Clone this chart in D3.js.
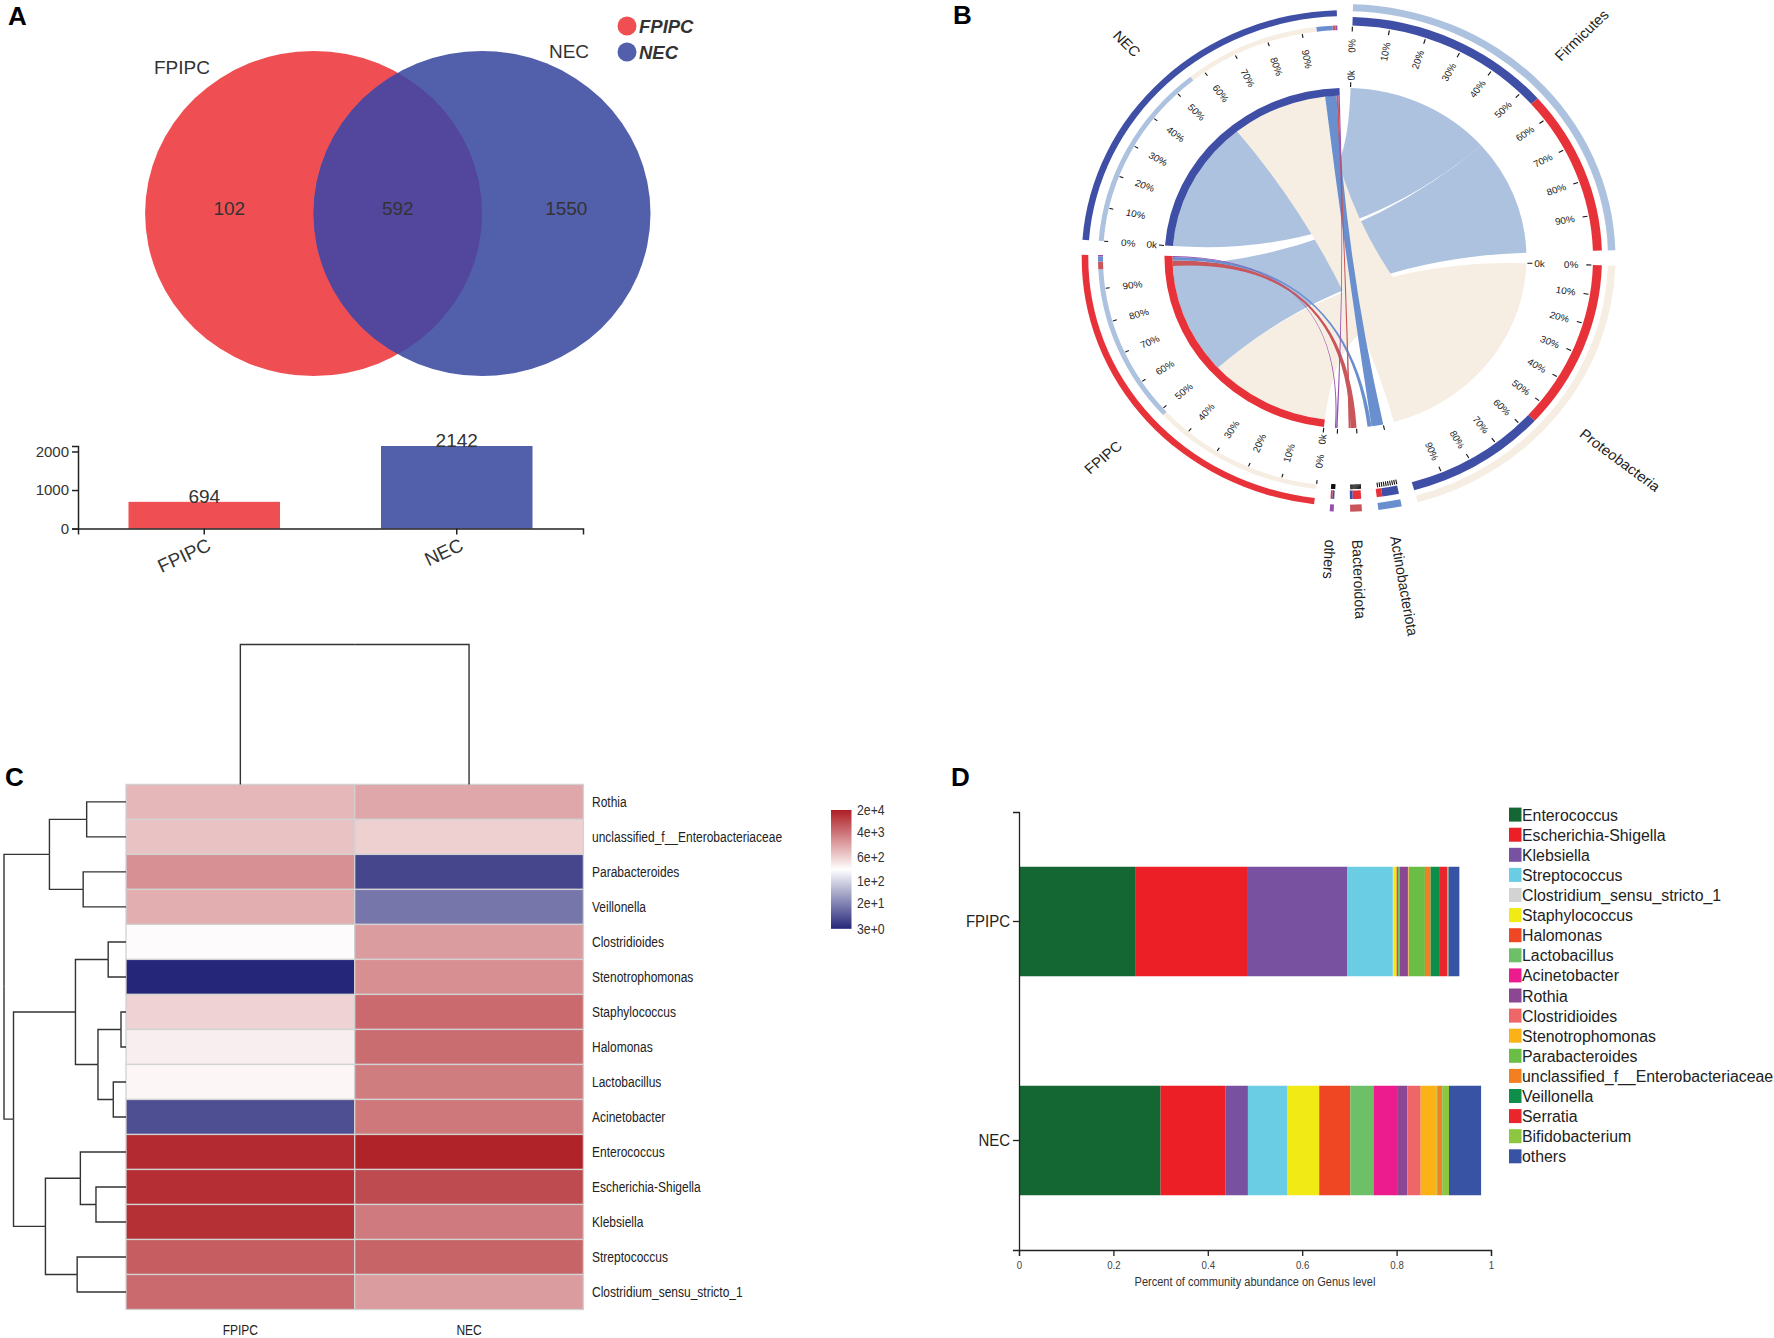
<!DOCTYPE html>
<html lang="en">
<head>
<meta charset="utf-8">
<title>FPIPC vs NEC genera</title>
<script src="https://d3js.org/d3.v7.min.js"></script>
<style>
  body { margin: 0; background: #fff; }
  svg { display: block; font-family: "Liberation Sans", Arial, Helvetica, sans-serif; }
  .letter { font-size: 26px; font-weight: bold; fill: #000; }
</style>
</head>
<body>
<svg id="fig" width="1774" height="1338"></svg>
<script>
// ---------------- data ----------------
// A: genera found in each group
const groups = ["FPIPC", "NEC"];
const groupColors = ["#ef4f52", "#525fab"];
const vennCounts = [102, 592, 1550];      // FPIPC only, shared, NEC only
const groupTotals = [694, 2142];
const totalTicks = [0, 1000, 2000];

// B: phylum share of each sample (%)
const phyla = ["Firmicutes", "Proteobacteria", "Actinobacteriota", "Bacteroidota", "others"];
const phylumColors = ["#adc2df", "#f7eee3", "#6a8fcf", "#c9565b", "#9350b0"];
const necPhyla   = [56.0, 38.2, 4.5, 0.75, 0.55];
const fpipcPhyla = [47.3, 48.5, 1.5, 2.25, 0.45];
const pctTicks = [0, 10, 20, 30, 40, 50, 60, 70, 80, 90];

// C: heatmap of top genera (read counts)
const genera = ["Rothia", "unclassified_f__Enterobacteriaceae", "Parabacteroides", "Veillonella",
  "Clostridioides", "Stenotrophomonas", "Staphylococcus", "Halomonas", "Lactobacillus", "Acinetobacter",
  "Enterococcus", "Escherichia-Shigella", "Klebsiella", "Streptococcus", "Clostridium_sensu_stricto_1"];
const heatFPIPC = [1000, 805, 2120, 1195, 267, 3, 591, 341, 292, 6.9, 15400, 14700, 14100, 5830, 4480];
const heatNEC   = [1364, 617, 5.8, 15.3, 1700, 2210, 4480, 4280, 3140, 3430, 18300, 8280, 3290, 5100, 1700];
// hclust style merges: negative = leaf (1-based), positive = earlier merge
const rowMerge = [[-7, -8], [-9, -10], [-5, -6], [1, 2], [-12, -13], [-1, -2], [-3, -4],
  [-11, 5], [-14, -15], [3, 4], [6, 7], [8, 9], [10, 12], [11, 13]];
const rowHeight = [5, 12.7, 17.8, 28, 30, 39.3, 42.8, 45.6, 48.8, 50.5, 76.5, 80.5, 112.4, 121.9];
const colMerge = [[-1, -2]];
const colHeight = [1];
const legendTicks = [3, 20, 100, 600, 4000, 20000];

// D: community composition, genus level
const genusNames = ["Enterococcus", "Escherichia-Shigella", "Klebsiella", "Streptococcus",
  "Clostridium_sensu_stricto_1", "Staphylococcus", "Halomonas", "Lactobacillus", "Acinetobacter",
  "Rothia", "Clostridioides", "Stenotrophomonas", "Parabacteroides", "unclassified_f__Enterobacteriaceae",
  "Veillonella", "Serratia", "Bifidobacterium", "others"];
const genusColors = ["#146633", "#ec1f26", "#7851a0", "#6acde3", "#d3d3d3", "#f2ea14", "#ef4723",
  "#6dbf68", "#ec1c8f", "#8c4792", "#ef6669", "#fbb216", "#6abd45", "#f37f20", "#0d8f4a",
  "#e9262b", "#8dc63f", "#3953a4"];
const genusFPIPC = [0.246, 0.239, 0.210, 0.097, 0.001, 0.007, 0.003, 0.003, 0.001, 0.017,
  0.001, 0.001, 0.034, 0.012, 0.018, 0.017, 0.003, 0.023];
const genusNEC = [0.300, 0.137, 0.048, 0.084, 0.000, 0.067, 0.066, 0.049, 0.050, 0.022,
  0.028, 0.034, 0.001, 0.010, 0.001, 0.000, 0.014, 0.068];
const shareTicks = [0, 0.2, 0.4, 0.6, 0.8, 1];

// ---------------- drawing ----------------
const svg = d3.select("#fig");
svg.append("rect").attr("width", 1774).attr("height", 1338).attr("fill", "#fff");
const defs = svg.append("defs");

// condensed text: scale horizontally around the anchor point
function narrow(sel, x, y, k) {
  return sel.attr("transform", `translate(${x},${y}) scale(${k},1)`);
}

[["A", 8, 25], ["B", 953, 24], ["C", 5, 786], ["D", 951, 786]].forEach(([t, x, y]) =>
  svg.append("text").attr("class", "letter").attr("x", x).attr("y", y).text(t));

// ===== A: Venn =====
const gA = svg.append("g");
const vennCy = 213.5, vennRx = 168.5, vennRy = 162.5;
const vennCx = [313.6, 482.0];
defs.append("clipPath").attr("id", "clipFPIPC").append("ellipse")
  .attr("cx", vennCx[0]).attr("cy", vennCy).attr("rx", vennRx).attr("ry", vennRy);
groups.forEach((g, i) => {
  gA.append("ellipse").attr("cx", vennCx[i]).attr("cy", vennCy)
    .attr("rx", vennRx).attr("ry", vennRy).attr("fill", groupColors[i]);
});
gA.append("ellipse").attr("cx", vennCx[1]).attr("cy", vennCy).attr("rx", vennRx).attr("ry", vennRy)
  .attr("clip-path", "url(#clipFPIPC)").attr("fill", "#52479d");

const vennTextX = [
  (vennCx[0] - vennRx + vennCx[1] - vennRx) / 2,
  (vennCx[0] + vennCx[1]) / 2,
  (vennCx[0] + vennRx + vennCx[1] + vennRx) / 2
];
gA.selectAll("text.vn").data(vennCounts).join("text").attr("class", "vn")
  .attr("x", (d, i) => vennTextX[i]).attr("y", vennCy + 1)
  .attr("text-anchor", "middle").attr("font-size", 19).attr("fill", "#333").text(d => d);

gA.append("text").attr("x", 182).attr("y", 74).attr("text-anchor", "middle")
  .attr("font-size", 19).attr("fill", "#333").text(groups[0]);
gA.append("text").attr("x", 569).attr("y", 58).attr("text-anchor", "middle")
  .attr("font-size", 19).attr("fill", "#333").text(groups[1]);

// legend
groups.forEach((g, i) => {
  const y = 26 + i * 26;
  gA.append("ellipse").attr("cx", 627).attr("cy", y).attr("rx", 9.5).attr("ry", 9.5).attr("fill", groupColors[i]);
  gA.append("text").attr("x", 639).attr("y", y + 6.5).attr("font-size", 18.5)
    .attr("font-weight", "bold").attr("font-style", "italic").attr("fill", "#333").text(g);
});

// ===== A: totals bar chart =====
const xA = d3.scaleBand().domain(groups).range([78, 583]).paddingInner(0.4).paddingOuter(0.2);
const yA = d3.scaleLinear().domain([0, d3.max(groupTotals)]).range([528.6, 446]);

gA.selectAll("rect.tot").data(groupTotals).join("rect").attr("class", "tot")
  .attr("x", (d, i) => xA(groups[i])).attr("width", xA.bandwidth())
  .attr("y", d => yA(d)).attr("height", d => yA(0) - yA(d))
  .attr("fill", (d, i) => groupColors[i]);
gA.selectAll("text.tot").data(groupTotals).join("text").attr("class", "tot")
  .attr("x", (d, i) => xA(groups[i]) + xA.bandwidth() / 2).attr("y", d => yA(d) + 1)
  .attr("text-anchor", "middle").attr("font-size", 19).attr("fill", "#333").text(d => d);

const axYA = gA.append("g").attr("transform", "translate(78,0)")
  .call(d3.axisLeft(yA).tickValues(totalTicks).tickSize(6).tickFormat(d3.format("d")));
axYA.selectAll("text").attr("font-size", 15).attr("fill", "#333")
  .attr("font-family", "Liberation Sans, Arial, sans-serif");
const axXA = gA.append("g").attr("transform", "translate(0,528.6)")
  .call(d3.axisBottom(xA).tickSize(6));
axXA.selectAll("text").attr("font-size", 19).attr("fill", "#333")
  .attr("font-family", "Liberation Sans, Arial, sans-serif")
  .attr("text-anchor", "end").attr("dy", null).attr("y", null)
  .attr("transform", "translate(8,21) rotate(-25)");
[axYA, axXA].forEach(a => a.selectAll("path, line").attr("stroke", "#222").attr("stroke-width", 1.5));

// ===== B: chord =====
const cxB = 1345.5, cyB = 258, squash = 0.94;
const gB = svg.append("g").attr("transform", `translate(${cxB},${cyB}) scale(1,${squash})`);
const sampleColors = { NEC: "#3f4fa5", FPIPC: "#e8323a" };

const links = [];
phyla.forEach((p, pi) => {
  links.push({ s: "NEC", pi, v: necPhyla[pi] });
  links.push({ s: "FPIPC", pi, v: fpipcPhyla[pi] });
});
const segs = phyla.map((p, pi) => ({ name: p, kind: "phylum", color: phylumColors[pi], links: links.filter(l => l.pi === pi) }))
  .concat(["FPIPC", "NEC"].map(s => ({ name: s, kind: "sample", color: sampleColors[s], links: links.filter(l => l.s === s) })));

const rad = {
  sample: { ribbon: 173, tick: [238, 242], comp: [242.5, 247.5], outer: [257.2, 263.8], pct: 225 },
  phylum: { ribbon: 181, tick: [241, 246], comp: [247.5, 256.5], outer: [262.5, 270], pct: 233 }
};
const padA = 3.5 * Math.PI / 180;
const startA = 1.6 * Math.PI / 180;
const perUnit = (2 * Math.PI - padA * segs.length) / (2 * d3.sum(links, l => l.v));
let cur = startA;
segs.forEach(sg => {
  sg.total = d3.sum(sg.links, l => l.v);
  sg.a0 = cur; sg.a1 = cur + sg.total * perUnit; cur = sg.a1 + padA;
  sg.pct = d3.scaleLinear().domain([0, 100]).range([sg.a0, sg.a1]);
  let b = sg.a0;
  sg.blocks = sg.links.slice().sort((x, y) => y.v - x.v).map(l => {
    const blk = { startAngle: b, endAngle: b + l.v * perUnit };
    b = blk.endAngle;
    if (sg.kind === "sample") { l.src = blk; blk.color = phylumColors[l.pi]; }
    else { l.tgt = blk; blk.color = sampleColors[l.s]; }
    return blk;
  });
});

const arc = d3.arc();
const ring = (a0, a1, r) => arc({ startAngle: a0, endAngle: a1, innerRadius: r[0], outerRadius: r[1] });
const ribbon = d3.ribbon();

// ribbons, big ones first
links.slice().sort((x, y) => y.v - x.v).forEach(l => {
  gB.append("path")
    .attr("d", ribbon({ source: { ...l.src, radius: rad.sample.ribbon }, target: { ...l.tgt, radius: rad.phylum.ribbon } }))
    .attr("fill", phylumColors[l.pi]);
});

function radialText(ang, r, txt, side, size) {
  const deg = ang * 180 / Math.PI;
  const right = deg < 185;
  const anchor = side === "in" ? (right ? "start" : "end") : (right ? "end" : "start");
  return gB.append("text")
    .attr("transform", `rotate(${right ? deg - 90 : deg + 90}) translate(${right ? r : -r},0)`)
    .attr("text-anchor", anchor).attr("dominant-baseline", "central")
    .attr("font-size", size).attr("fill", "#222").text(txt);
}
const tickLine = (ang, r) => gB.append("line")
  .attr("x1", r[0] * Math.sin(ang)).attr("y1", -r[0] * Math.cos(ang))
  .attr("x2", r[1] * Math.sin(ang)).attr("y2", -r[1] * Math.cos(ang))
  .attr("stroke", "#111").attr("stroke-width", 1.1);

segs.forEach(sg => {
  const R = rad[sg.kind];
  const big = sg.total > 20;
  if (sg.kind === "sample") gB.append("path").attr("d", ring(sg.a0, sg.a1, [173, 181])).attr("fill", sg.color);
  sg.blocks.forEach(b => gB.append("path").attr("d", ring(b.startAngle, b.endAngle, R.comp)).attr("fill", b.color));
  gB.append("path").attr("d", ring(sg.a0, sg.a1, R.outer)).attr("fill", sg.color);
  pctTicks.forEach(p => {
    tickLine(sg.pct(p), R.tick);
    if (big) radialText(sg.pct(p), R.pct, p + "%", "out", 10);
  });
  tickLine(sg.a0, [182, 187]);
  if (big) radialText(sg.a0, 189, "0k", "in", 10);
  radialText((sg.a0 + sg.a1) / 2, 300, sg.name, "in", 15);
});

// ===== C: heatmap =====
const gC = svg.append("g");
const hx = d3.scaleBand().domain(groups).range([126, 583.4]);
const hy = d3.scaleBand().domain(genera).range([784.4, 1309.5]);
const heatColor = d3.scaleLog().domain([3, Math.sqrt(3 * 20000), 20000])
  .range(["#252679", "#ffffff", "#ae1e24"]).interpolate(d3.interpolateRgb).clamp(true);
const cells = [];
genera.forEach((g, i) => {
  cells.push({ g, s: "FPIPC", v: heatFPIPC[i] });
  cells.push({ g, s: "NEC", v: heatNEC[i] });
});
gC.selectAll("rect.cell").data(cells).join("rect").attr("class", "cell")
  .attr("x", d => hx(d.s)).attr("y", d => hy(d.g))
  .attr("width", hx.bandwidth()).attr("height", hy.bandwidth())
  .attr("fill", d => heatColor(d.v)).attr("stroke", "#d2d2d2").attr("stroke-width", 1.3);

gC.selectAll("text.row").data(genera).join("text").attr("class", "row")
  .each(function (d) { narrow(d3.select(this), 592, hy(d) + hy.bandwidth() / 2, 0.8); })
  .attr("dominant-baseline", "central").attr("font-size", 15).attr("fill", "#222").text(d => d);
gC.selectAll("text.col").data(groups).join("text").attr("class", "col")
  .each(function (d) { narrow(d3.select(this), hx(d) + hx.bandwidth() / 2, 1335, 0.8); })
  .attr("text-anchor", "middle").attr("font-size", 15).attr("fill", "#222").text(d => d);

function dendro(merge, heights, leafPos, hScale, vertical) {
  const nodes = [];
  const get = c => c < 0 ? { pos: leafPos[-c - 1], h: 0 } : nodes[c - 1];
  const line = d3.line();
  merge.forEach((m, j) => {
    const kids = m.map(get);
    const node = { pos: d3.mean(kids, k => k.pos), h: heights[j] };
    nodes.push(node);
    const hp = hScale(node.h);
    kids.forEach(k => {
      const pts = [[hScale(k.h), k.pos], [hp, k.pos], [hp, node.pos]];
      gC.append("path").attr("d", line(vertical ? pts.map(p => [p[1], p[0]]) : pts))
        .attr("fill", "none").attr("stroke", "#333").attr("stroke-width", 1.4);
    });
  });
}
dendro(rowMerge, rowHeight, genera.map(g => hy(g) + hy.bandwidth() / 2),
  d3.scaleLinear().domain([0, d3.max(rowHeight)]).range([126, 4]), false);
dendro(colMerge, colHeight, groups.map(g => hx(g) + hx.bandwidth() / 2),
  d3.scaleLinear().domain([0, d3.max(colHeight)]).range([784.4, 644.5]), true);

// colour key
const keyY = d3.scaleLog().domain([3, 20000]).range([928.8, 810]);
const grad = defs.append("linearGradient").attr("id", "heatGrad")
  .attr("x1", 0).attr("y1", 1).attr("x2", 0).attr("y2", 0);
d3.range(0, 1.0001, 0.05).forEach(t => {
  grad.append("stop").attr("offset", t).attr("stop-color", heatColor(keyY.invert(928.8 - t * (928.8 - 810))));
});
gC.append("rect").attr("x", 831).attr("y", 810).attr("width", 20.5).attr("height", 928.8 - 810)
  .attr("fill", "url(#heatGrad)");
gC.selectAll("text.key").data(legendTicks).join("text").attr("class", "key")
  .each(function (d) { narrow(d3.select(this), 857, keyY(d), 0.82); })
  .attr("dominant-baseline", "central").attr("font-size", 15).attr("fill", "#333")
  .text(d => d.toExponential(0));

// ===== D: stacked composition bars =====
const gD = svg.append("g");
const xD = d3.scaleLinear().domain([0, 1]).range([1019, 1491]);
const yD = d3.scaleBand().domain(groups).range([812, 1250]).paddingInner(0.5).paddingOuter(0.25);
const shares = { FPIPC: genusFPIPC, NEC: genusNEC };
groups.forEach(s => {
  let acc = 0;
  shares[s].forEach((v, i) => {
    gD.append("rect").attr("x", xD(acc)).attr("width", xD(acc + v) - xD(acc))
      .attr("y", yD(s)).attr("height", yD.bandwidth()).attr("fill", genusColors[i]);
    acc += v;
  });
});
const axYD = gD.append("g").attr("transform", "translate(1019,0)").call(d3.axisLeft(yD).tickSize(6));
axYD.selectAll(".tick text").each(function () {
  const t = d3.select(this);
  t.attr("x", null).attr("dy", null).attr("dominant-baseline", "central")
    .attr("transform", "translate(-9,0) scale(0.88,1)");
}).attr("font-size", 17).attr("fill", "#222").attr("font-family", "Liberation Sans, Arial, sans-serif");
const axXD = gD.append("g").attr("transform", "translate(0,1250)")
  .call(d3.axisBottom(xD).tickValues(shareTicks).tickSize(6).tickFormat(d => d === 0 || d === 1 ? d : d3.format(".1f")(d)));
axXD.selectAll(".tick text").attr("y", null).attr("dy", null)
  .attr("transform", "translate(0,19) scale(0.88,1)")
  .attr("font-size", 11).attr("fill", "#444").attr("font-family", "Liberation Sans, Arial, sans-serif");
[axYD, axXD].forEach(a => a.selectAll("path, line").attr("stroke", "#222").attr("stroke-width", 1.3));
narrow(gD.append("text"), 1255, 1286, 0.92).attr("text-anchor", "middle").attr("font-size", 12)
  .attr("fill", "#333").text("Percent of community abundance on Genus level");

genusNames.forEach((g, i) => {
  const y = 814.6 + i * 20.1;
  gD.append("rect").attr("x", 1509).attr("y", y - 7).attr("width", 12.5).attr("height", 14).attr("fill", genusColors[i]);
  narrow(gD.append("text"), 1522, y, 0.98).attr("dominant-baseline", "central")
    .attr("font-size", 16.2).attr("fill", "#222").text(g);
});
</script>
</body>
</html>
